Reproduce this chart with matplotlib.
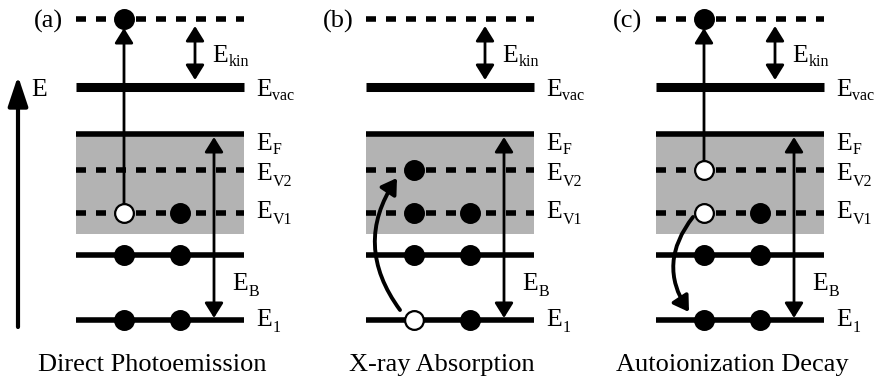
import matplotlib
matplotlib.use("Agg")
import matplotlib.pyplot as plt
from matplotlib.patches import FancyArrowPatch, Rectangle

plt.rcParams['font.family'] = ['Liberation Serif', 'DejaVu Serif']
plt.rcParams['lines.scale_dashes'] = False

# energy levels (diagram units, up = higher energy)
levels = ['top', 'vac', 'F', 'V2', 'V1', 'core', '1']
energies = [360, 292, 245, 209, 166, 124, 59]
band_bottom = 145
level_labels = ['', 'vac', 'F', 'V2', 'V1', '', '1']
label_shift = [0, 0, -7, -2, 3, 0, 2]   # nudge of the level label vs. its line

panel_tags = ['(a)', '(b)', '(c)']
panel_titles = ['Direct Photoemission', 'X-ray Absorption', 'Autoionization Decay']
panel_x0 = [0, 290, 580]

# electrons per panel: (level, slot, filled)
electrons = [
    [('top', 0, True), ('V1', 0, False), ('V1', 1, True),
     ('core', 0, True), ('core', 1, True), ('1', 0, True), ('1', 1, True)],
    [('V2', 0, True), ('V1', 0, True), ('V1', 1, True),
     ('core', 0, True), ('core', 1, True), ('1', 0, False), ('1', 1, True)],
    [('top', 0, True), ('V2', 0, False), ('V1', 0, False), ('V1', 1, True),
     ('core', 0, True), ('core', 1, True), ('1', 0, True), ('1', 1, True)],
]
# straight transitions (from, to) and curved ones
straight = [[('V1', 'top')], [], [('V2', 'top')]]
curved = [[], [('1', 'V2')], [('V1', '1')]]

E = dict(zip(levels, energies))
slot_x = [124, 180]
x_left, x_right = 76, 244

fig = plt.figure(figsize=(8.79, 3.79), dpi=100)
ax = fig.add_axes([0, 0, 1, 1])
ax.set_xlim(0, 879)
ax.set_ylim(0, 379)
ax.axis('off')

head = '-|>,head_length=0.45,head_width=0.28'
dhead = '<|-|>,head_length=0.45,head_width=0.28'


def arrow(p1, p2, style=head, rad=0.0, lw=2.0):
    a = FancyArrowPatch(p1, p2, arrowstyle=style, mutation_scale=20,
                        connectionstyle='arc3,rad=%g' % rad, lw=lw,
                        color='black', shrinkA=0, shrinkB=0, zorder=4)
    ax.add_patch(a)


def elabel(x, yc, sub):
    # yc = middle of the capital E
    ax.text(x, yc - 8.5, 'E', fontsize=18.5, ha='left', va='baseline')
    if sub:
        ax.text(x + 16.5, yc - 13.5, sub, fontsize=11.5, ha='left', va='baseline')


# energy axis
arrow((18, 379 - 327), (18, 379 - 76), style='-|>,head_length=0.9,head_width=0.3', lw=3)
elabel(31, 379 - 87, '')

for p in range(3):
    x0 = panel_x0[p]
    xl, xr = x0 + x_left, x0 + x_right
    ax.add_patch(Rectangle((xl, band_bottom), xr - xl, E['F'] - band_bottom,
                           color='#b3b3b3', lw=0, zorder=0))
    for name, lab, dy in zip(levels, level_labels, label_shift):
        y = E[name]
        if name in ('top', 'V2', 'V1'):
            ax.plot([xl, xr], [y, y], color='black', lw=4, dashes=(7.2, 7.2), zorder=1)
        elif name == 'vac':
            ax.plot([xl, xr], [y, y], color='black', lw=6.5, solid_capstyle='butt', zorder=1)
        else:
            ax.plot([xl, xr], [y, y], color='black', lw=4, solid_capstyle='butt', zorder=1)
        if lab:
            elabel(xr + 12, y + dy, lab)
    ax.text(x0 + 48, E['top'] - 2, panel_tags[p], fontsize=19, ha='center', va='center')
    ax.text(x0 + 152, 14, panel_titles[p], fontsize=19, ha='center', va='center')

    # E_kin and E_B
    arrow((x0 + 195, E['vac'] + 7), (x0 + 195, E['top'] - 7), style=dhead)
    elabel(x0 + 212, 379 - 53, 'kin')
    arrow((x0 + 214, E['F'] - 3), (x0 + 214, E['1'] + 2), style=dhead)
    elabel(x0 + 232, 379 - 282, 'B')

    for a, b in straight[p]:
        arrow((x0 + slot_x[0], E[a]), (x0 + slot_x[0], E[b] - 9))
    for a, b in curved[p]:
        if E[b] > E[a]:
            arrow((x0 + slot_x[0] - 14, E[a] + 10), (x0 + slot_x[0] - 17, E[b] - 8),
                  rad=-0.35, lw=2.8)
        else:
            arrow((x0 + slot_x[0] - 11, E[a] - 4), (x0 + slot_x[0] - 15, E[b] + 8),
                  rad=0.36, lw=2.8)

    for name, slot, filled in electrons[p]:
        ax.plot(x0 + slot_x[slot], E[name], 'o', ms=13.5,
                mfc='black' if filled else 'white', mec='black', mew=1.6, zorder=5)

fig.savefig('out.png', dpi=100)
